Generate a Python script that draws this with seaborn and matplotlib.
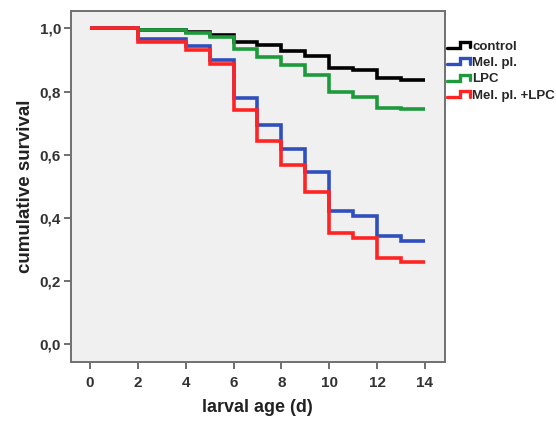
import matplotlib
matplotlib.use("Agg")
import matplotlib.pyplot as plt
from matplotlib.legend_handler import HandlerBase
from matplotlib.lines import Line2D
import seaborn as sns
import pandas as pd

days = [0, 1, 2, 3, 4, 5, 6, 7, 8, 9, 10, 11, 12, 13, 14]
groups = ["control", "Mel. pl.", "LPC", "Mel. pl. +LPC"]
control = [1.0, 1.0, 0.994, 0.994, 0.988, 0.980, 0.957, 0.946, 0.928, 0.911, 0.873, 0.867, 0.844, 0.838, 0.838]
mel_pl = [1.0, 1.0, 0.967, 0.967, 0.943, 0.900, 0.780, 0.694, 0.617, 0.546, 0.420, 0.406, 0.343, 0.327, 0.327]
lpc = [1.0, 1.0, 0.994, 0.994, 0.984, 0.973, 0.936, 0.908, 0.883, 0.851, 0.798, 0.784, 0.749, 0.743, 0.743]
mel_lpc = [1.0, 1.0, 0.957, 0.957, 0.930, 0.888, 0.742, 0.644, 0.567, 0.482, 0.353, 0.337, 0.272, 0.260, 0.260]
x_ticks = [0, 2, 4, 6, 8, 10, 12, 14]
y_ticks = [0.0, 0.2, 0.4, 0.6, 0.8, 1.0]
y_tick_labels = ["0,0", "0,2", "0,4", "0,6", "0,8", "1,0"]
colors = ["#000000", "#2F4FBF", "#1E9A3C", "#FF2424"]

series = [control, mel_pl, lpc, mel_lpc]
rows = []
for g, vals in zip(groups, series):
    for d, v in zip(days, vals):
        rows.append({"day": d, "survival": v, "group": g})
df = pd.DataFrame(rows)

sns.set_style("ticks")
plt.rcParams["font.family"] = ["Liberation Sans", "DejaVu Sans"]

fig = plt.figure(figsize=(5.56, 4.22), dpi=100)
ax = fig.add_axes([70.7 / 556, (422 - 361.7) / 422, (445 - 70.7) / 556, (361.7 - 10.7) / 422])
ax.set_facecolor("#F0F0F0")

order = ["control", "LPC", "Mel. pl.", "Mel. pl. +LPC"]
palette = dict(zip(groups, colors))
for g in order:
    sub = df[df["group"] == g]
    sns.lineplot(data=sub, x="day", y="survival", color=palette[g], ax=ax,
                 drawstyle="steps-post", linewidth=2.6, legend=False,
                 solid_joinstyle="miter", solid_capstyle="butt")

ax.set_xlim(-0.81, 14.84)
ax.set_ylim(-0.056, 1.056)
ax.set_xticks(x_ticks)
ax.set_xticklabels([str(t) for t in x_ticks], fontweight="bold", fontsize=11, color="#333333")
ax.set_yticks(y_ticks)
ax.set_yticklabels(y_tick_labels, fontweight="bold", fontsize=11, color="#333333")
ax.tick_params(axis="both", direction="out", length=5, width=1.2, color="#555555", pad=2)
ax.tick_params(axis="x", pad=5)
for s in ax.spines.values():
    s.set_color("#707070")
    s.set_linewidth(1.4)

ax.set_xlabel("larval age (d)", fontweight="bold", fontsize=13, color="#222222", labelpad=7)
ax.set_ylabel("cumulative survival", fontweight="bold", fontsize=13.5, color="#222222", labelpad=4)


class StepHandler(HandlerBase):
    def create_artists(self, legend, orig_handle, xdescent, ydescent, width, height, fontsize, trans):
        x0 = -xdescent
        y0 = -ydescent
        xs = [x0, x0 + 0.55 * width, x0 + 0.55 * width, x0 + width, x0 + width]
        ys = [y0 + 0.2 * height, y0 + 0.2 * height, y0 + 0.85 * height, y0 + 0.85 * height, y0 + 0.25 * height]
        ln = Line2D(xs, ys, color=orig_handle.get_color(), linewidth=2.4,
                    solid_joinstyle="miter", transform=trans)
        return [ln]


handles = [Line2D([], [], color=c) for c in colors]
leg = fig.legend(handles, groups, loc="upper left", bbox_to_anchor=(446 / 556, 1 - 39 / 422),
                 frameon=False, prop={"weight": "bold", "size": 9.5},
                 handler_map={Line2D: StepHandler()}, handlelength=1.75, handletextpad=0.15,
                 labelspacing=0.32, borderaxespad=0, borderpad=0.1)

fig.savefig("out.png", dpi=100, facecolor="white")
